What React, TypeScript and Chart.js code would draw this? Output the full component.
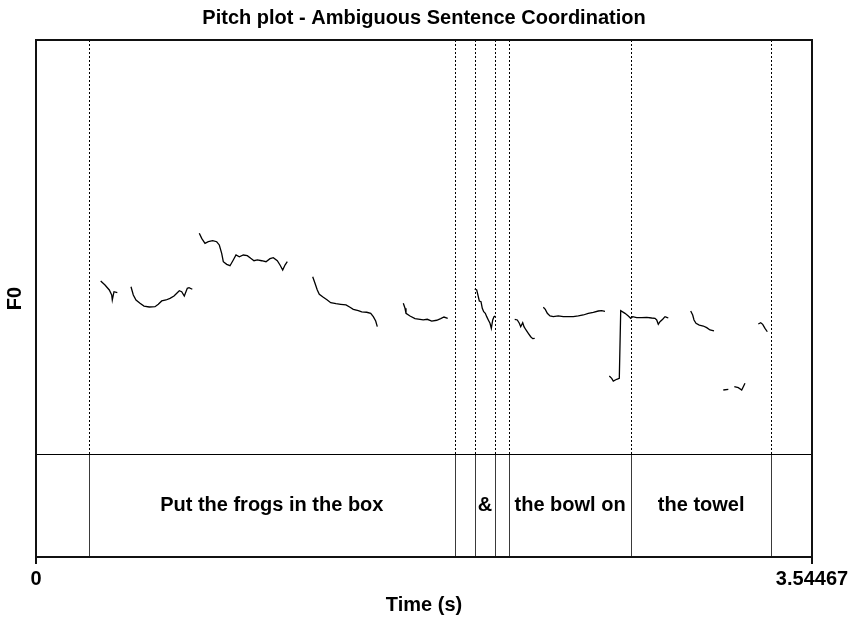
import React, { useEffect, useRef } from "react";
import { Chart, registerables } from "chart.js";

Chart.register(...registerables);

// ---------- text ----------
const TITLE = "Pitch plot - Ambiguous Sentence Coordination";
const X_LABEL = "Time (s)";
const Y_LABEL = "F0";

// ---------- axes ----------
const T_MIN = 0;
const T_MAX = 3.54467;
const X_TICKS = [0, 3.54467];
const X_TICK_LABELS = ["0", "3.54467"];
const F0_MIN = 75; // Hz, bottom of the pitch panel
const F0_MAX = 500; // Hz, top of the pitch panel
const TIER_FRACTION = 103 / 517; // share of the plot height used by the text tier

// ---------- pitch contour pieces (time s, F0 Hz) ----------
const SEG_A_T = [0.2955, 0.3152, 0.3348, 0.3458, 0.3485, 0.3563, 0.3714];
const SEG_A_F0 = [252.6, 248.5, 243.4, 238.2, 233.1, 241.6, 240.6];

const SEG_B_T = [0.4339, 0.4445, 0.4568, 0.4751, 0.4933, 0.5175, 0.5436, 0.5587, 0.5742, 0.5938, 0.6121, 0.6304, 0.6454, 0.6546, 0.6655, 0.6774, 0.6911, 0.6989, 0.714];
const SEG_B_F0 = [246.7, 238.2, 233.1, 229.7, 226.9, 225.9, 226.2, 228.7, 232.1, 233.1, 234.8, 237.2, 240.6, 242.6, 241.6, 237.2, 245.1, 245.7, 244.1];

const SEG_C_T = [0.7459, 0.7569, 0.772, 0.787, 0.8071, 0.8254, 0.8373, 0.8482, 0.8556, 0.8711, 0.8862, 0.9012, 0.9136, 0.9287, 0.9469, 0.9652, 0.9807, 0.9958, 1.0109, 1.031, 1.0506, 1.0689, 1.084, 1.1022, 1.1146, 1.1269, 1.1374, 1.1479];
const SEG_C_F0 = [301.6, 296.4, 291.3, 292.9, 294.0, 292.9, 289.6, 281.0, 272.4, 269.7, 268.3, 274.2, 279.3, 277.5, 279.3, 278.6, 275.9, 273.4, 274.2, 273.4, 272.4, 275.5, 276.5, 273.4, 269.0, 263.9, 269.0, 272.4];

const SEG_D_T = [1.2639, 1.2744, 1.2849, 1.2941, 1.3124, 1.3306, 1.3462, 1.3704, 1.3918, 1.416, 1.4343, 1.4494, 1.4722, 1.4878, 1.5106, 1.5289, 1.5408, 1.5517, 1.559];
const SEG_D_F0 = [257.0, 250.2, 243.4, 238.9, 235.9, 233.1, 230.3, 229.3, 228.7, 228.0, 225.6, 223.5, 222.1, 220.8, 220.5, 219.4, 216.0, 211.5, 205.7];

const SEG_E_T = [1.6778, 1.6856, 1.6901, 1.7084, 1.7312, 1.7541, 1.7691, 1.7874, 1.8075, 1.8303, 1.8486, 1.8637, 1.8806];
const SEG_E_F0 = [229.7, 224.6, 219.4, 216.7, 213.9, 213.3, 212.6, 213.3, 211.5, 212.3, 213.9, 215.6, 214.3];

const SEG_F_T = [2.0039, 2.0131, 2.0204, 2.025, 2.0327, 2.0386, 2.045, 2.0524, 2.0588, 2.0661, 2.0738, 2.0798, 2.0862, 2.0921, 2.098];
const SEG_F_F0 = [244.4, 243.4, 236.5, 232.1, 231.3, 224.6, 221.1, 219.4, 216.0, 212.6, 209.2, 204.0, 212.6, 216.0, 216.7];

const SEG_G_T = [2.1867, 2.1985, 2.2077, 2.2141, 2.2232, 2.2291, 2.2383, 2.2488, 2.2597, 2.2689, 2.278];
const SEG_G_F0 = [213.3, 212.6, 209.2, 205.7, 209.8, 205.7, 202.3, 198.9, 195.4, 193.4, 193.8];

const SEG_H_T = [2.3173, 2.3264, 2.3356, 2.3479, 2.363, 2.3858, 2.4086, 2.4315, 2.4543, 2.4772, 2.5, 2.5228, 2.5457, 2.5685, 2.5841, 2.5991];
const SEG_H_F0 = [225.6, 223.5, 219.4, 216.7, 216.0, 216.7, 216.0, 216.0, 216.0, 216.7, 217.7, 219.4, 220.5, 221.8, 222.1, 221.5];

const SEG_I_T = [2.6188, 2.6297, 2.637, 2.6526, 2.6645, 2.6709, 2.6905, 2.7056, 2.7165, 2.7256, 2.7439, 2.7667, 2.7896, 2.8124, 2.8275, 2.8353, 2.8426, 2.8504, 2.8627, 2.8732, 2.881, 2.8883];
const SEG_I_F0 = [155.1, 152.7, 149.9, 151.7, 152.7, 222.1, 219.4, 216.7, 214.3, 216.0, 214.9, 214.9, 215.3, 214.6, 214.3, 212.6, 208.1, 210.8, 213.3, 216.0, 215.3, 214.6];

const SEG_J_T = [2.9906, 2.9997, 3.0057, 3.0148, 3.0299, 3.0481, 3.0637, 3.0787, 3.097];
const SEG_J_F0 = [221.8, 217.7, 212.6, 209.2, 207.4, 206.4, 204.7, 202.3, 201.3];

const SEG_K_T = [3.1395, 3.1624];
const SEG_K_F0 = [140.7, 141.4];

const SEG_L_T = [3.1898, 3.208, 3.2236, 3.2309, 3.2386];
const SEG_L_F0 = [144.1, 143.1, 140.7, 144.1, 147.6];

const SEG_M_T = [3.2994, 3.3104, 3.3195, 3.33, 3.3405];
const SEG_M_F0 = [208.5, 209.8, 208.1, 204.0, 200.5];

// ---------- text grid tier ----------
const TIER_BOUNDARIES = [0.2416, 1.9126, 2.0048, 2.0967, 2.1592, 2.7197, 3.3574];
const TIER_LABELS = ["", "Put the frogs in the box", "", "&", "", "the bowl on", "the towel", ""];

const SEGMENTS: [number[], number[]][] = [
  [SEG_A_T, SEG_A_F0],
  [SEG_B_T, SEG_B_F0],
  [SEG_C_T, SEG_C_F0],
  [SEG_D_T, SEG_D_F0],
  [SEG_E_T, SEG_E_F0],
  [SEG_F_T, SEG_F_F0],
  [SEG_G_T, SEG_G_F0],
  [SEG_H_T, SEG_H_F0],
  [SEG_I_T, SEG_I_F0],
  [SEG_J_T, SEG_J_F0],
  [SEG_K_T, SEG_K_F0],
  [SEG_L_T, SEG_L_F0],
  [SEG_M_T, SEG_M_F0],
];

const FONT_FAMILY = '"Liberation Sans", Arial, Helvetica, sans-serif';
const Y_MIN = F0_MIN - ((F0_MAX - F0_MIN) * TIER_FRACTION) / (1 - TIER_FRACTION);

const praatPlugin = {
  id: "praatTier",
  beforeDatasetsDraw(chart: any) {
    const { ctx, chartArea: a, scales } = chart;
    const xs = scales.x;
    const ys = scales.y;
    const sepY = Math.round(ys.getPixelForValue(F0_MIN)) + 0.5;
    ctx.save();
    // dotted boundaries in the pitch panel
    ctx.strokeStyle = "#000";
    ctx.lineWidth = 1;
    ctx.setLineDash([2, 2]);
    for (const b of TIER_BOUNDARIES) {
      const px = Math.round(xs.getPixelForValue(b)) + 0.5;
      ctx.beginPath();
      ctx.moveTo(px, a.top);
      ctx.lineTo(px, sepY);
      ctx.stroke();
    }
    ctx.setLineDash([]);
    // solid boundaries in the tier
    ctx.strokeStyle = "#3a3a3a";
    for (const b of TIER_BOUNDARIES) {
      const px = Math.round(xs.getPixelForValue(b)) + 0.5;
      ctx.beginPath();
      ctx.moveTo(px, sepY);
      ctx.lineTo(px, a.bottom);
      ctx.stroke();
    }
    // separator
    ctx.strokeStyle = "#000";
    ctx.beginPath();
    ctx.moveTo(a.left, sepY);
    ctx.lineTo(a.right, sepY);
    ctx.stroke();
    // interval labels
    const edges = [T_MIN, ...TIER_BOUNDARIES, T_MAX];
    ctx.fillStyle = "#000";
    ctx.font = `bold 20px ${FONT_FAMILY}`;
    ctx.textAlign = "center";
    ctx.textBaseline = "middle";
    const ty = (sepY + a.bottom) / 2;
    TIER_LABELS.forEach((lab, i) => {
      if (!lab) return;
      const cx = xs.getPixelForValue((edges[i] + edges[i + 1]) / 2);
      ctx.fillText(lab, cx, ty);
    });
    ctx.restore();
  },
  afterDraw(chart: any) {
    const { ctx, chartArea: a } = chart;
    ctx.save();
    ctx.strokeStyle = "#111";
    ctx.lineWidth = 2;
    ctx.strokeRect(a.left, a.top, a.right - a.left, a.bottom - a.top);
    ctx.restore();
  },
};

export default function App() {
  const ref = useRef<HTMLCanvasElement>(null);
  useEffect(() => {
    if (!ref.current) return;
    Chart.defaults.font.family = FONT_FAMILY;
    const chart = new Chart(ref.current, {
      type: "line",
      data: {
        datasets: SEGMENTS.map(([ts, fs], i) => ({
          label: `seg${i}`,
          data: ts.map((t, j) => ({ x: t, y: fs[j] })),
          borderColor: "#000",
          borderWidth: 1.3,
          pointRadius: 0,
          tension: 0,
          fill: false,
        })),
      },
      options: {
        responsive: false,
        animation: false,
        events: [],
        layout: { padding: { left: 0, right: 44, top: 0, bottom: 0 } },
        plugins: {
          legend: { display: false },
          tooltip: { enabled: false },
          title: {
            display: true,
            fullSize: false,
            text: TITLE,
            color: "#000",
            font: { size: 20, weight: "bold", family: FONT_FAMILY },
            padding: { top: 6, bottom: 10 },
          },
        },
        scales: {
          x: {
            type: "linear",
            min: T_MIN,
            max: T_MAX,
            afterBuildTicks: (s: any) => {
              s.ticks = X_TICKS.map((v) => ({ value: v }));
            },
            afterFit: (s: any) => {
              s.height = 62;
            },
            ticks: {
              color: "#000",
              font: { size: 20, weight: "bold", family: FONT_FAMILY },
              padding: 3,
              maxRotation: 0,
              autoSkip: false,
              callback: (_v: any, i: number) => X_TICK_LABELS[i],
            },
            grid: {
              display: true,
              drawOnChartArea: false,
              drawTicks: true,
              tickLength: 7,
              color: "#111",
              lineWidth: 2,
            },
            border: { display: false },
            title: {
              display: true,
              text: X_LABEL,
              color: "#000",
              font: { size: 20, weight: "bold", family: FONT_FAMILY },
              padding: { top: 0, bottom: 2 },
            },
          },
          y: {
            type: "linear",
            min: Y_MIN,
            max: F0_MAX,
            afterFit: (s: any) => {
              s.width = 36;
            },
            ticks: { display: false },
            grid: { display: false },
            border: { display: false },
            title: {
              display: true,
              text: Y_LABEL,
              color: "#000",
              font: { size: 20, weight: "bold", family: FONT_FAMILY },
              padding: { top: 3, bottom: 0 },
            },
          },
        },
      },
      plugins: [praatPlugin],
    } as any);
    return () => chart.destroy();
  }, []);
  return (
    <div style={{ position: "fixed", left: 0, top: 0, width: 856, height: 619, background: "#fff" }}>
      <canvas ref={ref} width={856} height={619} style={{ display: "block", width: 856, height: 619 }} />
    </div>
  );
}
